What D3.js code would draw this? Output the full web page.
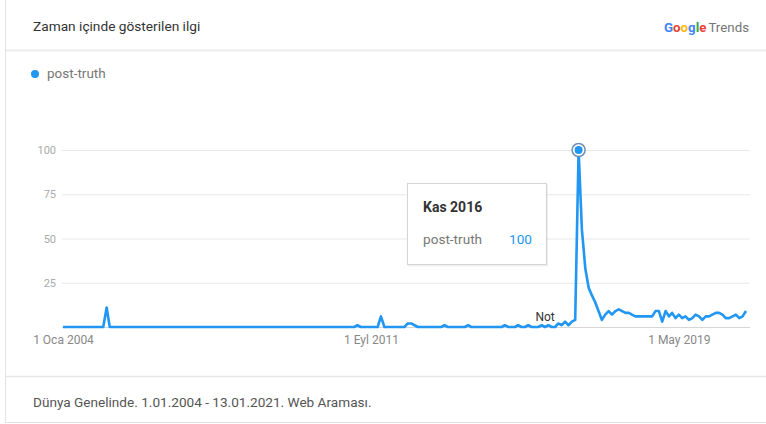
<!DOCTYPE html>
<html><head><meta charset="utf-8">
<script src="https://cdn.jsdelivr.net/npm/d3@7/dist/d3.min.js"></script>
<style>
html,body{margin:0;padding:0;background:#fff;}
svg{display:block;font-family:Roboto,"Noto Sans",Arial,sans-serif;}
</style></head>
<body><svg id="c" width="766" height="424"></svg>
<script>
// ---- data (monthly Google Trends interest, Jan 2004 .. Jan 2021) ----
const seriesName = "post-truth";
const startMonth = "2004-01-01";
const y2004 = [0,0,0,0,0,0,0,0,0,0,0,0];
const y2005 = [0,11,0,0,0,0,0,0,0,0,0,0];
const y2006 = [0,0,0,0,0,0,0,0,0,0,0,0];
const y2007 = [0,0,0,0,0,0,0,0,0,0,0,0];
const y2008 = [0,0,0,0,0,0,0,0,0,0,0,0];
const y2009 = [0,0,0,0,0,0,0,0,0,0,0,0];
const y2010 = [0,0,0,0,0,0,0,0,0,0,0,0];
const y2011 = [0,0,0,0,1,0,0,0,0,0,0,6];
const y2012 = [0,0,0,0,0,0,0,2,2,1,0,0];
const y2013 = [0,0,0,0,0,0,1,0,0,0,0,0];
const y2014 = [0,1,0,0,0,0,0,0,0,0,0,0];
const y2015 = [1,0,0,0,1,0,0,1,0,0,0,1];
const y2016 = [0,1,0,0,2,1,3,1,3,4,100,55];
const y2017 = [33,22,18,14,9,4,7,9,7,9,10,9];
const y2018 = [8,8,7,6,6,6,6,6,6,9,9,3];
const y2019 = [9,6,8,5,7,5,6,4,5,7,6,4];
const y2020 = [6,6,7,8,8,7,5,5,6,7,5,6];
const y2021 = [9];
const yTicks = [25,50,75,100];
const xTickDates = ["2004-01-01","2011-09-01","2019-05-01"];
const xTickLabels = ["1 Oca 2004","1 Eyl 2011","1 May 2019"];
const tooltipTitle = "Kas 2016";
const noteLabel = "Not";
const noteDate = "2016-01-01";
const titleText = "Zaman içinde gösterilen ilgi";
const footerText = "Dünya Genelinde. 1.01.2004 - 13.01.2021. Web Araması.";

const values = [].concat(y2004,y2005,y2006,y2007,y2008,y2009,y2010,y2011,y2012,y2013,y2014,y2015,y2016,y2017,y2018,y2019,y2020,y2021);
const parse = d3.timeParse("%Y-%m-%d");
const t0 = parse(startMonth);
const data = values.map((v,i)=>({date: d3.timeMonth.offset(t0,i), value: v}));

const svg = d3.select("#c");
const blue = "#2196f3";

// card
svg.append("rect").attr("x",5.5).attr("y",-2).attr("width",770).attr("height",424.5)
  .attr("fill","#fff").attr("stroke","#e3e3e3");
svg.append("line").attr("x1",6).attr("x2",766).attr("y1",50.5).attr("y2",50.5).attr("stroke","#ececec").attr("stroke-width",2);
svg.append("line").attr("x1",6).attr("x2",766).attr("y1",376.5).attr("y2",376.5).attr("stroke","#e6e6e6").attr("stroke-width",1.5);

svg.append("text").attr("x",33).attr("y",31).attr("font-size",13.7).attr("fill","#333").text(titleText);

// Google Trends logo
const logo = svg.append("text").attr("x",749).attr("y",32).attr("text-anchor","end").attr("font-size",13.3);
const gl = [["G","#4285F4"],["o","#EA4335"],["o","#FBBC05"],["g","#4285F4"],["l","#34A853"],["e","#EA4335"]];
gl.forEach(([c,col])=>logo.append("tspan").attr("fill",col).attr("font-weight","bold").text(c));
logo.append("tspan").attr("fill","#757575").attr("dx",2).text("Trends");

// legend
svg.append("circle").attr("cx",35).attr("cy",74).attr("r",4).attr("fill",blue);
svg.append("text").attr("x",47).attr("y",78).attr("font-size",13.5).attr("fill","#777").text(seriesName);

// scales
const x = d3.scaleTime().domain([t0, d3.timeMonth.offset(t0, values.length-1)]).range([63,746]);
const y = d3.scaleLinear().domain([0,100]).range([327,150]);

// grid
const yAxis = d3.axisLeft(y).tickValues(yTicks).tickSize(-(750-62)).tickPadding(6);
const gy = svg.append("g").attr("transform","translate(62,0)").call(yAxis);
gy.select(".domain").remove();
gy.selectAll(".tick line").attr("stroke","#e8e8e8");
gy.selectAll(".tick text").attr("fill","#aaa").attr("font-size",11).attr("font-family","Roboto,sans-serif");

// baseline
svg.append("line").attr("x1",62).attr("x2",750).attr("y1",y(0)+0.5).attr("y2",y(0)+0.5).attr("stroke","#d6d6d6");

// x axis
const xAxis = d3.axisBottom(x).tickValues(xTickDates.map(parse)).tickFormat((d,i)=>xTickLabels[i]).tickSize(0).tickPadding(8);
const gx = svg.append("g").attr("transform",`translate(0,${y(0)})`).call(xAxis);
gx.select(".domain").remove();
gx.selectAll(".tick text").attr("fill","#888").attr("font-size",12).attr("font-family","Roboto,sans-serif");

// line
const line = d3.line().x(d=>x(d.date)).y(d=>y(d.value));
svg.append("path").datum(data).attr("d",line).attr("fill","none").attr("stroke",blue)
  .attr("stroke-width",2.6).attr("stroke-linejoin","round");

// note
svg.append("text").attr("x",x(parse(noteDate))).attr("y",y(0)-6).attr("text-anchor","middle")
  .attr("font-size",12).attr("fill","#333").text(noteLabel);

// peak marker
const peak = data.reduce((a,b)=>b.value>a.value?b:a);
svg.append("circle").attr("cx",x(peak.date)).attr("cy",y(peak.value)).attr("r",6.5)
  .attr("fill","#fff").attr("stroke","#6a8fb8").attr("stroke-width",1.5);
svg.append("circle").attr("cx",x(peak.date)).attr("cy",y(peak.value)).attr("r",4).attr("fill",blue);

// tooltip
const tt = svg.append("g").attr("transform","translate(407,183)");
tt.append("rect").attr("x",1).attr("y",1.5).attr("width",140).attr("height",82).attr("fill","#000").attr("opacity",0.06);
tt.append("rect").attr("x",0.5).attr("y",0.5).attr("width",139).attr("height",81).attr("fill","#fff").attr("stroke","#d4d4d4");
tt.append("text").attr("x",16).attr("y",29).attr("font-size",14).attr("font-weight","bold").attr("fill","#333").text(tooltipTitle);
tt.append("text").attr("x",16).attr("y",61).attr("font-size",13.6).attr("fill","#777").text(seriesName);
tt.append("text").attr("x",125).attr("y",61).attr("text-anchor","end").attr("font-size",13.6).attr("fill",blue).text(peak.value);

// footer
svg.append("text").attr("x",33).attr("y",407).attr("font-size",13.6).attr("fill","#555").text(footerText);
</script></body></html>
